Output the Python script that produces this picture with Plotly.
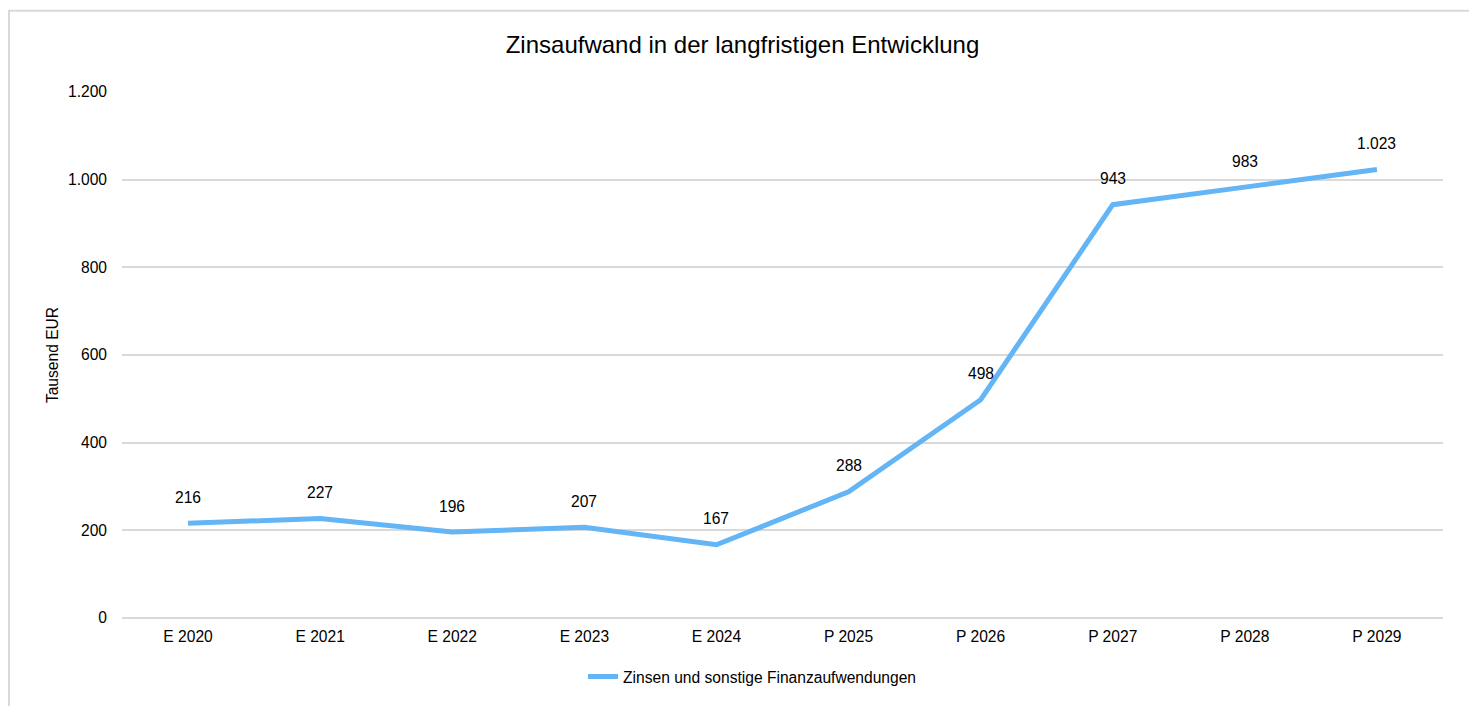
import plotly.graph_objects as go

categories = ["E 2020", "E 2021", "E 2022", "E 2023", "E 2024",
              "P 2025", "P 2026", "P 2027", "P 2028", "P 2029"]
values = [216, 227, 196, 207, 167, 288, 498, 943, 983, 1023]
series_name = "Zinsen und sonstige Finanzaufwendungen"
y_ticks = [0, 200, 400, 600, 800, 1000, 1200]

FONT = "Liberation Sans, Arial, sans-serif"
FS = 15.6
LINE_COLOR = "#63b5f6"
GRID = "#d9d9d9"

W, H = 1469, 698
ML, MR, MT, MB = 114, 34, 84, 86
PW, PH = W - ML - MR, H - MT - MB

fig = go.Figure()
fig.add_trace(go.Scatter(
    x=categories, y=values, mode="lines", name=series_name,
    line=dict(color=LINE_COLOR, width=5),
))

for c, v in zip(categories, values):
    fig.add_annotation(x=c, y=v, text=f"{v:,}".replace(",", "."),
                       showarrow=False, yshift=26,
                       font=dict(family=FONT, size=FS, color="#000000"))

fig.add_shape(type="rect", xref="paper", yref="paper",
              x0=(1 - ML) / PW, x1=(1464 - ML) / PW,
              y0=-0.3, y1=(H - MB - 2.5) / PH,
              line=dict(color=GRID, width=2), fillcolor="rgba(0,0,0,0)",
              layer="below")

fig.update_layout(
    width=W, height=H,
    margin=dict(l=ML, r=MR, t=MT, b=MB),
    paper_bgcolor="white", plot_bgcolor="white",
    separators=",.",
    font=dict(family=FONT, size=FS, color="#000000"),
    title=dict(text="Zinsaufwand in der langfristigen Entwicklung",
               x=0.5, xanchor="center", y=1 - 37 / H, yanchor="middle",
               font=dict(family=FONT, size=24, color="#000000")),
    xaxis=dict(type="category", range=[-0.5, 9.5], showgrid=False,
               showline=False, ticks="", ticklabelstandoff=7,
               tickfont=dict(size=FS)),
    yaxis=dict(range=[0, 1200], tickvals=y_ticks, tickformat=",d",
               showgrid=True, gridcolor=GRID, gridwidth=1.5,
               zeroline=True, zerolinecolor=GRID, zerolinewidth=1.5,
               showline=False, ticks="", ticklen=0, ticklabelstandoff=14,
               title=dict(text="Tausend EUR", font=dict(size=FS), standoff=5),
               tickfont=dict(size=FS)),
    showlegend=True,
    legend=dict(orientation="h", x=0.5 - 30 / PW, xanchor="center",
                y=(H - MB - 671) / PH, yanchor="middle",
                font=dict(family=FONT, size=FS, color="#000000")),
)

fig.write_html("out.html")
